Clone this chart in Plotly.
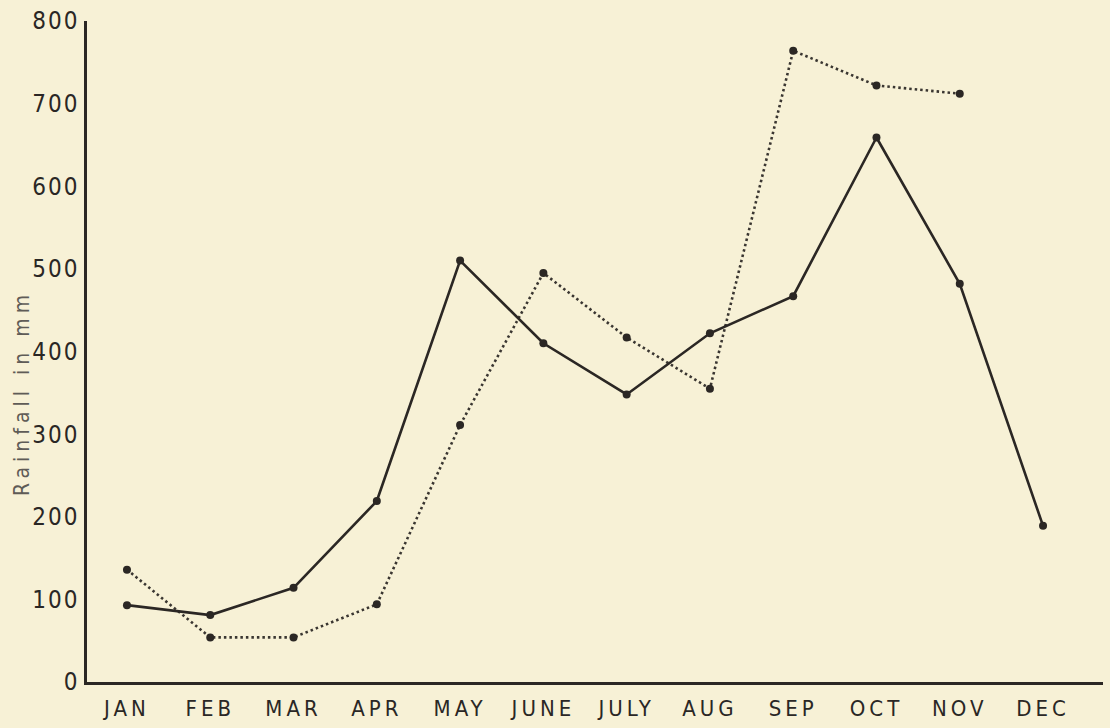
import plotly.graph_objects as go

# Monthly rainfall (mm) for two recording years
months = ["JAN", "FEB", "MAR", "APR", "MAY", "JUNE",
          "JULY", "AUG", "SEP", "OCT", "NOV", "DEC"]
rain_solid = [93, 81, 114, 219, 510, 410, 348, 422, 467, 659, 482, 189]
rain_dotted = [136, 54, 54, 94, 311, 495, 417, 355, 764, 722, 712]

y_ticks = [0, 100, 200, 300, 400, 500, 600, 700, 800]

ink = "#2b2724"
paper = "#f7f1d6"
font_family = "DejaVu Sans Condensed, Liberation Sans Narrow, sans-serif"

fig = go.Figure()

fig.add_trace(go.Scatter(
    x=months[:len(rain_dotted)], y=rain_dotted,
    mode="lines+markers",
    line=dict(color="#3a3631", width=2.6, dash="2.5px,3px"),
    marker=dict(color=ink, size=8),
    showlegend=False,
))

fig.add_trace(go.Scatter(
    x=months, y=rain_solid,
    mode="lines+markers",
    line=dict(color=ink, width=2.6),
    marker=dict(color=ink, size=8),
    showlegend=False,
))

fig.update_xaxes(
    type="category",
    categoryorder="array", categoryarray=months,
    range=[-0.48, 11.72],
    showline=True, linecolor=ink, linewidth=2.5,
    showgrid=False, zeroline=False, ticks="",
    tickfont=dict(family=font_family, size=22, color="#2a2725"),
    ticklabelstandoff=5,
)

fig.update_yaxes(
    range=[0, 800],
    tickvals=y_ticks,
    ticktext=[str(v) for v in y_ticks],
    showline=True, linecolor=ink, linewidth=2.5,
    showgrid=False, zeroline=False, ticks="",
    tickfont=dict(family=font_family, size=24, color="#2a2725"),
    ticklabelstandoff=0,
)

fig.add_annotation(
    text="Rainfall in mm",
    xref="paper", yref="paper",
    x=-0.064, y=0.437,
    xanchor="center", yanchor="middle",
    textangle=-90, showarrow=False,
    font=dict(family=font_family, size=21, color="#5f5c57"),
)

fig.update_layout(
    width=1110, height=728,
    margin=dict(l=87, r=7, t=18, b=46),
    paper_bgcolor=paper, plot_bgcolor=paper,
)

# open up the lettering of the axis title and tick labels
spacing_js = (
    "function spread(sel, px){document.querySelectorAll(sel).forEach("
    "function(t){t.style.letterSpacing=px;});}"
    "spread('.annotation-text','5px');"
    "spread('.xtick text','4px');"
    "spread('.ytick text','2px');"
)

fig.write_html("out.html", post_script=spacing_js)
